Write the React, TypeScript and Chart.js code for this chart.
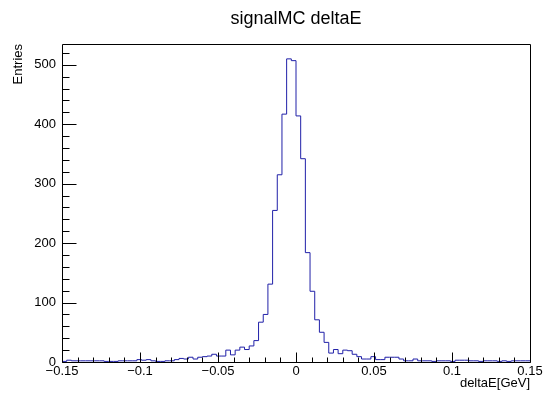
import React, { useEffect, useRef } from 'react';
import { Chart, registerables } from 'chart.js';

Chart.register(...registerables);

const titleText = 'signalMC deltaE';
const xTitle = 'deltaE[GeV]';
const yTitle = 'Entries';

const xMin = -0.15;
const xMax = 0.15;
const binWidth = 0.003;
const yMax = 535;

const counts = [
  1, 1, 3, 2, 2, 2, 2, 2, 2, 2,
  1, 1, 1, 2, 2, 2, 2, 4, 3, 4,
  2, 1, 1, 2, 2, 4, 6, 5, 8, 5,
  8, 9, 10, 13, 10, 10, 20, 12, 20, 25,
  21, 27, 36, 67, 80, 131, 255, 315, 417, 510,
  507, 414, 342, 184, 119, 71, 50, 33, 15, 21,
  14, 20, 19, 13, 9, 5, 5, 9, 4, 4,
  8, 8, 8, 5, 2, 2, 5, 2, 2, 2,
  1, 2, 2, 2, 1, 3, 3, 3, 2, 2,
  1, 2, 2, 2, 1, 2, 1, 2, 2, 2,
];

const xTickValues = [-0.15, -0.1, -0.05, 0, 0.05, 0.1, 0.15];
const xTickLabels = ['\u22120.15', '\u22120.1', '\u22120.05', '0', '0.05', '0.1', '0.15'];
const yTickValues = [0, 100, 200, 300, 400, 500];
const yTickLabels = ['0', '100', '200', '300', '400', '500'];
const xMinorStep = 0.01;
const yMinorStep = 20;

const FONT = '"Liberation Sans", Arial, Helvetica, sans-serif';

export default function App() {
  const ref = useRef<HTMLCanvasElement>(null);

  useEffect(() => {
    document.body.style.margin = '0';
    const canvas = ref.current;
    if (!canvas) return;

    const points = counts.map((c, i) => ({ x: xMin + i * binWidth, y: c }));
    points.push({ x: xMin + counts.length * binWidth, y: counts[counts.length - 1] });

    const rootAxes = {
      id: 'rootAxes',
      afterDraw(chart: any) {
        const { ctx, chartArea: a, scales } = chart;
        const xs = scales.x;
        const ys = scales.y;
        const L = Math.round(a.left) + 0.5;
        const R = Math.round(a.right) + 0.5;
        const T = Math.round(a.top) + 0.5;
        const B = Math.round(a.bottom) + 0.5;
        ctx.save();
        ctx.strokeStyle = '#000';
        ctx.lineWidth = 1;
        ctx.beginPath();
        ctx.rect(L, T, R - L, B - T);
        const nx = Math.round((xMax - xMin) / xMinorStep);
        for (let k = 0; k <= nx; k++) {
          const v = xMin + k * xMinorStep;
          const px = Math.round(xs.getPixelForValue(v)) + 0.5;
          const len = k % 5 === 0 ? 10 : 5;
          ctx.moveTo(px, B);
          ctx.lineTo(px, B - len);
        }
        for (let k = 0; k * yMinorStep <= yMax; k++) {
          const v = k * yMinorStep;
          const py = Math.round(ys.getPixelForValue(v)) + 0.5;
          const len = k % 5 === 0 ? 14 : 7;
          ctx.moveTo(L, py);
          ctx.lineTo(L + len, py);
        }
        ctx.stroke();
        ctx.restore();
      },
    };

    const chart = new Chart(canvas, {
      type: 'scatter',
      data: {
        datasets: [
          {
            data: points,
            showLine: true,
            stepped: 'after',
            borderColor: '#2020a8',
            borderWidth: 1,
            pointRadius: 0,
            fill: false,
          } as any,
        ],
      },
      options: {
        animation: false,
        responsive: false,
        maintainAspectRatio: false,
        layout: { padding: { top: 0, left: 0, right: 19, bottom: 0 } },
        plugins: {
          legend: { display: false },
          tooltip: { enabled: false },
          title: {
            display: true,
            text: titleText,
            fullSize: false,
            color: '#000',
            font: { family: FONT, size: 18, weight: 'normal' },
            padding: { top: 8, bottom: 14.4 },
          },
        },
        scales: {
          x: {
            type: 'linear',
            min: xMin,
            max: xMax,
            grid: { display: false, drawTicks: false },
            border: { display: false },
            afterBuildTicks: (s: any) => {
              s.ticks = xTickValues.map((v) => ({ value: v }));
            },
            afterFit: (s: any) => {
              s.height = 34;
            },
            ticks: {
              callback: (_v: any, i: number) => xTickLabels[i],
              autoSkip: false,
              maxRotation: 0,
              minRotation: 0,
              padding: 2,
              color: '#000',
              font: { family: FONT, size: 13 },
            },
            title: {
              display: true,
              text: xTitle,
              align: 'end',
              color: '#000',
              font: { family: FONT, size: 13 },
              padding: { top: 0, bottom: 5 },
            },
          },
          y: {
            type: 'linear',
            min: 0,
            max: yMax,
            grid: { display: false, drawTicks: false },
            border: { display: false },
            afterBuildTicks: (s: any) => {
              s.ticks = yTickValues.map((v) => ({ value: v }));
            },
            afterFit: (s: any) => {
              s.width = 62;
            },
            ticks: {
              callback: (_v: any, i: number) => yTickLabels[i],
              autoSkip: false,
              padding: 6,
              color: '#000',
              font: { family: FONT, size: 13 },
            },
            title: {
              display: true,
              text: yTitle,
              align: 'end',
              color: '#000',
              font: { family: FONT, size: 13 },
              padding: { top: 11, bottom: 0 },
            },
          },
        },
      },
      plugins: [rootAxes],
    } as any);

    return () => chart.destroy();
  }, []);

  return (
    <div style={{ position: 'absolute', left: 0, top: 0, width: 549, height: 396 }}>
      <canvas ref={ref} width={549} height={396} style={{ display: 'block' }} />
    </div>
  );
}
